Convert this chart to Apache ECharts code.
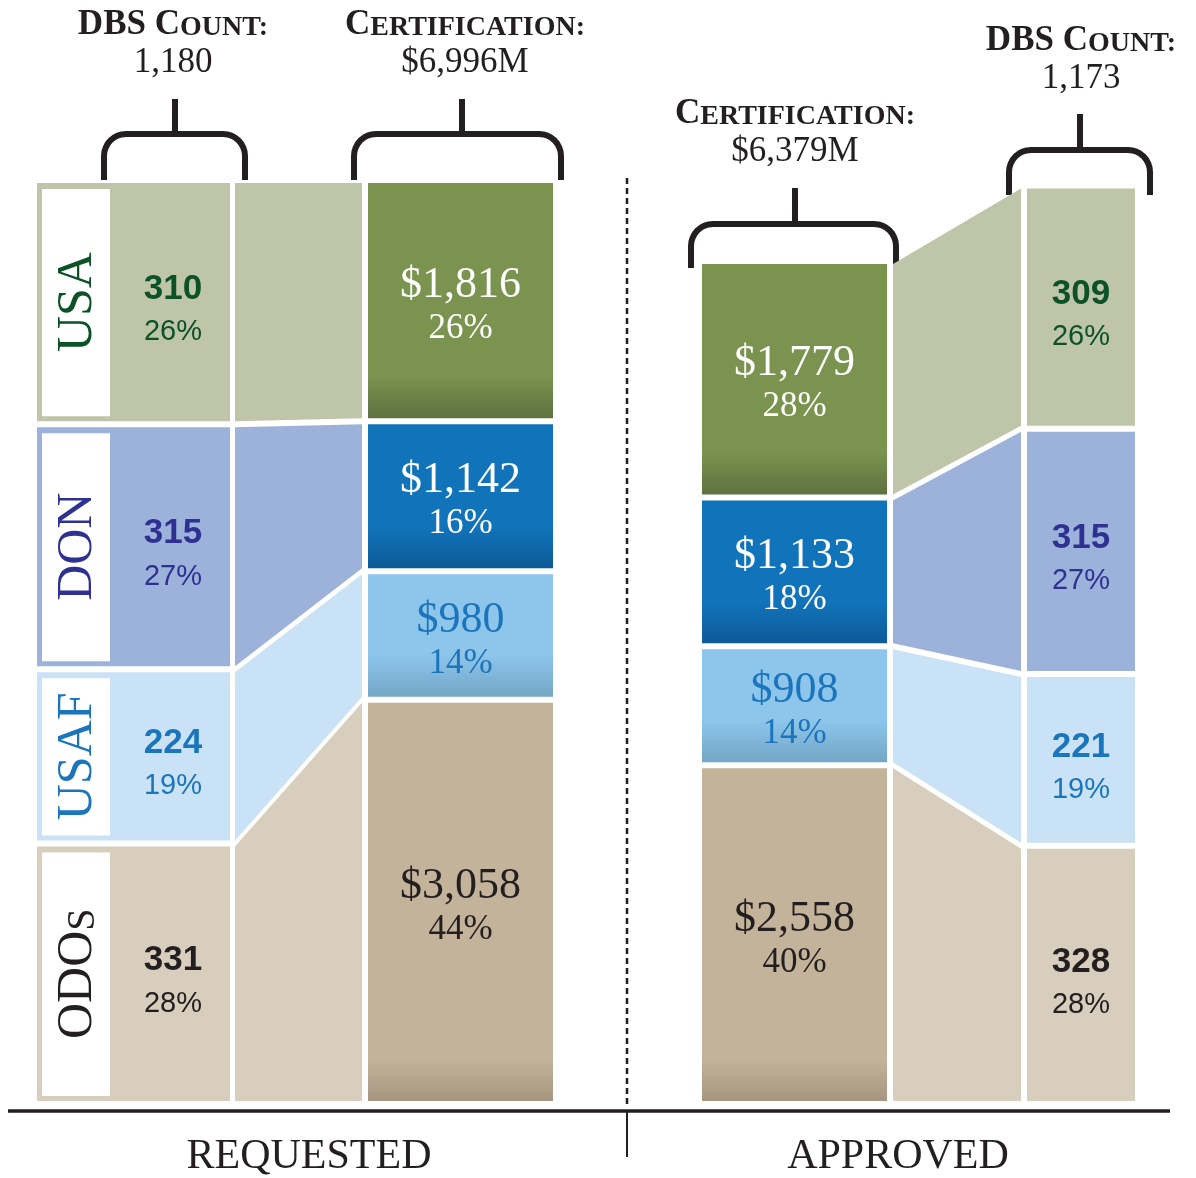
<!DOCTYPE html>
<html>
<head>
<meta charset="utf-8">
<title>DBS count and certification: requested vs approved</title>
<script src="https://cdn.jsdelivr.net/npm/echarts@6/dist/echarts.min.js"></script>
<style>
  html, body { margin: 0; padding: 0; background: #fff; }
  #chart { width: 1196px; height: 1178px; }
</style>
</head>
<body>
<div id="chart"></div>
<script>
// agencies, top to bottom as they sit in each column
const agencies = ['USA', 'DON', 'USAF', 'ODOS'];

// requested
const requestedCount = [310, 315, 224, 331];
const requestedCountPct = [26, 27, 19, 28];
const requestedCert = [1816, 1142, 980, 3058]; // $M
const requestedCertPct = [26, 16, 14, 44];
const requestedCountTotal = 1180;
const requestedCertTotal = 6996;

// approved
const approvedCert = [1779, 1133, 908, 2558]; // $M
const approvedCertPct = [28, 18, 14, 40];
const approvedCount = [309, 315, 221, 328];
const approvedCountPct = [26, 27, 19, 28];
const approvedCertTotal = 6379;
const approvedCountTotal = 1173;

const sectionLabels = ['REQUESTED', 'APPROVED'];

// colours
const countColors = ['#bec5a8', '#9cb2da', '#cae2f5', '#d8cebd'];
const certColors = ['#7a934f', '#1174bb', '#8dc5eb', '#c3b39a'];
const certDark = ['#5e7140', '#0e5a97', '#73a6c6', '#a69680'];
const nameColors = ['#0b5226', '#2e3192', '#1b75bc', '#231f20'];
const certTextColors = ['#ffffff', '#ffffff', '#1b75bc', '#231f20'];
const INK = '#231f20';
const SERIF = '"Liberation Serif", "DejaVu Serif", serif';
const SANS = '"Liberation Sans", Arial, sans-serif';
const GAP = 3; // half of the white gap between segments

const fmt = n => String(n).replace(/\B(?=(\d{3})+(?!\d))/g, ',');

// stack from the bottom: the last agency sits on the axis
function stackUp(values) {
  const out = [];
  let acc = 0;
  for (let i = values.length - 1; i >= 0; i--) {
    out[i] = [acc, acc + values[i], i];
    acc += values[i];
  }
  return out;
}

const reqCountStack = stackUp(requestedCount);
const reqCertStack = stackUp(requestedCert);
const apprCertStack = stackUp(approvedCert);
const apprCountStack = stackUp(approvedCount);

// both y axes span the same pixels, so a cert value maps onto the count axis by this ratio
const certToCount = requestedCountTotal / requestedCertTotal;

function edges(api, start, end, i) {
  const top = api.coord([0, end])[1] + (i === 0 ? 0 : GAP);
  const bot = api.coord([0, start])[1] - (start === 0 ? 0 : GAP);
  return [top, bot];
}

function countColumn(x0, x1, pcts, withNames) {
  return function (params, api) {
    const start = api.value(0), end = api.value(1), i = api.value(2);
    const [top, bot] = edges(api, start, end, i);
    const left = api.coord([x0, 0])[0], right = api.coord([x1, 0])[0];
    const children = [{
      type: 'rect',
      shape: { x: left, y: top, width: right - left, height: bot - top },
      style: { fill: countColors[i] }
    }];
    let cx = (left + right) / 2;
    if (withNames) {
      const il = left + 5, ir = left + 73;
      children.push({
        type: 'rect',
        shape: { x: il, y: top + 6, width: ir - il, height: bot - top - 11 },
        style: { fill: '#fff' }
      });
      const nm = agencies[i] === 'ODOS' ? '{a|ODO}{b|S}' : '{a|' + agencies[i] + '}';
      children.push({
        type: 'text',
        x: (il + ir) / 2 + 2,
        y: (top + bot) / 2,
        rotation: Math.PI / 2,
        style: {
          text: nm,
          align: 'center', verticalAlign: 'middle',
          rich: {
            a: { fontFamily: SERIF, fontSize: 50, fill: nameColors[i], verticalAlign: 'bottom', lineHeight: 50 },
            b: { fontFamily: SERIF, fontSize: 40, fill: nameColors[i], verticalAlign: 'bottom', lineHeight: 50 }
          }
        }
      });
      cx = (ir + right) / 2 + 3;
    }
    children.push({
      type: 'text',
      x: cx,
      y: (top + bot) / 2 + 8,
      style: {
        text: '{n|' + fmt(end - start) + '}\n{p|' + pcts[i] + '%}',
        align: 'center', verticalAlign: 'middle',
        rich: {
          n: { fontFamily: SANS, fontSize: 35, fontWeight: 'bold', fill: nameColors[i], lineHeight: 44, align: 'center' },
          p: { fontFamily: SANS, fontSize: 29, fill: nameColors[i], lineHeight: 42, align: 'center' }
        }
      }
    });
    return { type: 'group', children };
  };
}

function certColumn(x0, x1, pcts) {
  return function (params, api) {
    const start = api.value(0), end = api.value(1), i = api.value(2);
    const [top, bot] = edges(api, start, end, i);
    const left = api.coord([x0, 0])[0], right = api.coord([x1, 0])[0];
    const h = bot - top;
    const fade = Math.max(0, 1 - 42 / h);
    return {
      type: 'group',
      children: [{
        type: 'rect',
        shape: { x: left, y: top, width: right - left, height: h },
        style: {
          fill: {
            type: 'linear', x: 0, y: 0, x2: 0, y2: 1,
            colorStops: [
              { offset: 0, color: certColors[i] },
              { offset: fade, color: certColors[i] },
              { offset: 1, color: certDark[i] }
            ]
          }
        }
      }, {
        type: 'text',
        x: (left + right) / 2,
        y: (top + bot) / 2 + 6,
        style: {
          text: '{n|$' + fmt(end - start) + '}\n{p|' + pcts[i] + '%}',
          align: 'center', verticalAlign: 'middle',
          rich: {
            n: { fontFamily: SERIF, fontSize: 44, fill: certTextColors[i], lineHeight: 44, align: 'center' },
            p: { fontFamily: SERIF, fontSize: 35, fill: certTextColors[i], lineHeight: 43, align: 'center' }
          }
        }
      }]
    };
  };
}

// connector band: left edge follows one stack, right edge the other
function connector(x0, x1) {
  return function (params, api) {
    const l0 = api.value(0), l1 = api.value(1), r0 = api.value(2), r1 = api.value(3), i = api.value(4);
    const [lt, lb] = edges(api, l0, l1, i);
    const [rt, rb] = edges(api, r0, r1, i);
    const left = api.coord([x0, 0])[0], right = api.coord([x1, 0])[0];
    return {
      type: 'polygon',
      shape: { points: [[left, lt], [right, rt], [right, rb], [left, lb]] },
      style: { fill: countColors[i] }
    };
  };
}

const leftLinks = reqCountStack.map((s, i) =>
  [s[0], s[1], reqCertStack[i][0] * certToCount, reqCertStack[i][1] * certToCount, i]);
const rightLinks = apprCountStack.map((s, i) =>
  [apprCertStack[i][0] * certToCount, apprCertStack[i][1] * certToCount, s[0], s[1], i]);

function header(cx, y, big, small, value) {
  return [{
    type: 'text', x: cx, y: y,
    style: {
      text: '{a|' + big + '}{b|' + small + '}',
      align: 'center', verticalAlign: 'middle',
      rich: {
        a: { fontFamily: SERIF, fontSize: 35, fontWeight: 'bold', fill: INK, verticalAlign: 'bottom', lineHeight: 36 },
        b: { fontFamily: SERIF, fontSize: 28, fontWeight: 'bold', fill: INK, verticalAlign: 'bottom', lineHeight: 36 }
      }
    }
  }, {
    type: 'text', x: cx, y: y + 39,
    style: {
      text: value, fill: INK, font: '35px ' + SERIF,
      align: 'center', verticalAlign: 'middle'
    }
  }];
}

// rounded bracket: stem down from the heading, then a cap over the column
function bracket(xl, xr, xc, stemTop, bar, bottom) {
  const r = 22, pts = [[xl, bottom], [xl, bar + r]];
  for (let k = 1; k <= 8; k++) {
    const a = Math.PI + k * Math.PI / 16;
    pts.push([xl + r + r * Math.cos(a), bar + r + r * Math.sin(a)]);
  }
  for (let k = 0; k <= 8; k++) {
    const a = 1.5 * Math.PI + k * Math.PI / 16;
    pts.push([xr - r + r * Math.cos(a), bar + r + r * Math.sin(a)]);
  }
  pts.push([xr, bottom]);
  return [{
    type: 'polyline',
    shape: { points: pts },
    style: { stroke: INK, lineWidth: 6, fill: null, lineJoin: 'round' }
  }, {
    type: 'line',
    shape: { x1: xc, y1: stemTop, x2: xc, y2: bar },
    style: { stroke: INK, lineWidth: 6 }
  }];
}

const chart = echarts.init(document.getElementById('chart'));

const option = {
  backgroundColor: '#fff',
  animation: false,
  grid: { left: 0, right: 0, top: 183, bottom: 77 },
  xAxis: { type: 'value', min: 0, max: 1196, show: false },
  yAxis: [
    { type: 'value', min: 0, max: requestedCountTotal, show: false },
    { type: 'value', min: 0, max: requestedCertTotal, show: false }
  ],
  series: [
    { type: 'custom', yAxisIndex: 0, data: leftLinks, renderItem: connector(235, 362) },
    { type: 'custom', yAxisIndex: 0, data: rightLinks, renderItem: connector(893, 1021) },
    { type: 'custom', yAxisIndex: 0, data: reqCountStack, renderItem: countColumn(37, 230, requestedCountPct, true) },
    { type: 'custom', yAxisIndex: 1, data: reqCertStack, renderItem: certColumn(368, 553, requestedCertPct) },
    { type: 'custom', yAxisIndex: 1, data: apprCertStack, renderItem: certColumn(702, 887, approvedCertPct) },
    { type: 'custom', yAxisIndex: 0, data: apprCountStack, renderItem: countColumn(1027, 1135, approvedCountPct, false) }
  ],
  graphic: [
    ...header(173, 24, 'DBS C', 'OUNT:', fmt(requestedCountTotal)),
    ...header(465, 24, 'C', 'ERTIFICATION:', '$' + fmt(requestedCertTotal) + 'M'),
    ...header(795, 113, 'C', 'ERTIFICATION:', '$' + fmt(approvedCertTotal) + 'M'),
    ...header(1081, 40, 'DBS C', 'OUNT:', fmt(approvedCountTotal)),
    ...bracket(104, 245, 175, 99, 134, 180),
    ...bracket(354, 561, 462, 99, 134, 180),
    ...bracket(691, 896, 795, 188, 224, 268),
    ...bracket(1009, 1150, 1080, 114, 150, 195),
    {
      type: 'line',
      shape: { x1: 627, y1: 178, x2: 627, y2: 1108 },
      style: { stroke: INK, lineWidth: 2.5, lineDash: [6, 4] }
    },
    {
      type: 'line',
      shape: { x1: 8, y1: 1111, x2: 1170, y2: 1111 },
      style: { stroke: INK, lineWidth: 3.5 }
    },
    {
      type: 'line',
      shape: { x1: 627, y1: 1112, x2: 627, y2: 1157 },
      style: { stroke: INK, lineWidth: 2 }
    },
    {
      type: 'text', x: 309, y: 1157,
      style: {
        text: sectionLabels[0], fill: INK, font: '42px ' + SERIF,
        align: 'center', verticalAlign: 'middle'
      }
    },
    {
      type: 'text', x: 898, y: 1157,
      style: {
        text: sectionLabels[1], fill: INK, font: '42px ' + SERIF,
        align: 'center', verticalAlign: 'middle'
      }
    }
  ]
};

chart.setOption(option);
</script>
</body>
</html>
